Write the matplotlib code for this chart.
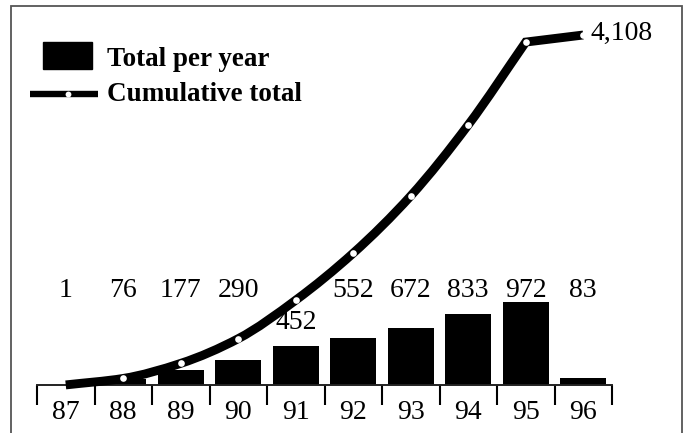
import numpy as np
import matplotlib
matplotlib.use("Agg")
import matplotlib.pyplot as plt
from matplotlib.path import Path
from matplotlib.patches import PathPatch, Rectangle
from matplotlib.lines import Line2D

# ---- data ----
years = ["87", "88", "89", "90", "91", "92", "93", "94", "95", "96"]
per_year = [1, 76, 177, 290, 452, 552, 672, 833, 972, 83]
cumulative = [1, 77, 254, 544, 996, 1548, 2220, 3053, 4025, 4108]
legend_labels = ["Total per year", "Cumulative total"]

W, H = 687, 433
DPI = 100
fig = plt.figure(figsize=(W / DPI, H / DPI), dpi=DPI)
SERIF = ["Liberation Serif", "DejaVu Serif"]

def fx(px):
    return px / W

def fy(py):
    return 1 - py / H

# axes box in pixels
x0, x1 = 37, 612
ytop, ybot = 35, 385
ax = fig.add_axes([fx(x0), fy(ybot), fx(x1) - fx(x0), fy(ytop) - fy(ybot)])
x = np.arange(len(years))
ax.set_xlim(-0.5, len(years) - 0.5)
ax.set_ylim(0, max(cumulative))

# bars
ax.bar(x, per_year, width=0.8, color="black", zorder=2)

# smooth cumulative curve (monotone cubic Bezier through data points, last segment straight)
ys = np.array(cumulative, dtype=float)
n_smooth = len(ys) - 1  # smooth through 87..95
ysm = ys[:n_smooth]
d = np.diff(ysm)
m = np.zeros(n_smooth)
m[0] = d[0]
m[-1] = d[-1]
for i in range(1, n_smooth - 1):
    if d[i - 1] * d[i] > 0:
        m[i] = 2 * d[i - 1] * d[i] / (d[i - 1] + d[i])
verts = [(x[0], ysm[0])]
codes = [Path.MOVETO]
for i in range(n_smooth - 1):
    verts += [(x[i] + 1 / 3, ysm[i] + m[i] / 3),
              (x[i + 1] - 1 / 3, ysm[i + 1] - m[i + 1] / 3),
              (x[i + 1], ysm[i + 1])]
    codes += [Path.CURVE4] * 3
verts.append((x[-1], ys[-1]))
codes.append(Path.LINETO)
path = Path(verts, codes)
ax.add_patch(PathPatch(path, facecolor="none", edgecolor="black", lw=6.4,
                       capstyle="butt", joinstyle="miter", zorder=3, clip_on=False))
ax.plot(x[1:], ys[1:], linestyle="none", marker="o", ms=4.8, mfc="white",
        mec="white", mew=0, zorder=4, clip_on=False)

# value labels
for i, v in enumerate(per_year):
    ly = 728 if i == 4 else 1115
    ax.text(x[i], ly, f"{v:,}", ha="center", va="center", fontsize=20,
            family=SERIF, zorder=5)
ax.annotate(f"{cumulative[-1]:,}", (x[-1], ys[-1]), xytext=(5, 1),
            textcoords="offset points", ha="left", va="center", fontsize=20,
            family=SERIF, annotation_clip=False)

# axes styling
for s in ["top", "left", "right"]:
    ax.spines[s].set_visible(False)
ax.spines["bottom"].set_linewidth(1.4)
ax.spines["bottom"].set_color("#222222")
ax.set_yticks([])
ax.set_xticks(x)
ax.set_xticklabels(years, fontsize=20, family=SERIF)
ax.tick_params(axis="x", which="major", length=0, pad=11)
ax.set_xticks(np.arange(-0.5, len(years), 1.0), minor=True)
ax.tick_params(axis="x", which="minor", length=14.5, width=1.5, color="black",
               direction="out")
ax.patch.set_visible(False)

# legend (drawn manually in figure pixels)
fig.patches.append(Rectangle((fx(43), fy(69)), fx(92) - fx(43), fy(42) - fy(69),
                             transform=fig.transFigure, color="black"))
fig.text(fx(107), fy(66), legend_labels[0], fontsize=19.5, fontweight="bold",
         family=SERIF, ha="left", va="baseline")
fig.lines.append(Line2D([fx(30), fx(98)], [fy(94), fy(94)], transform=fig.transFigure,
                        color="black", lw=4.6, solid_capstyle="butt"))
fig.lines.append(Line2D([fx(68)], [fy(94)], transform=fig.transFigure, marker="o",
                        ms=4.2, mfc="white", mec="white", mew=0, linestyle="none"))
fig.text(fx(107), fy(101), legend_labels[1], fontsize=19.5, fontweight="bold",
         family=SERIF, ha="left", va="baseline")

# outer frame
fig.patches.append(Rectangle((fx(11), fy(H + 10)), fx(682) - fx(11), fy(6) - fy(H + 10),
                             transform=fig.transFigure, fill=False, edgecolor="#555555",
                             lw=1.3))

fig.savefig("out.png", dpi=DPI)
